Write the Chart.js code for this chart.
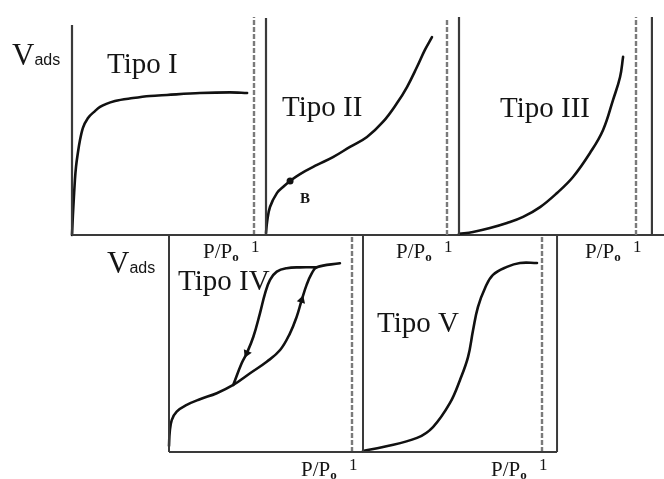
<!DOCTYPE html>
<html>
<head>
<meta charset="utf-8">
<script src="https://cdn.jsdelivr.net/npm/chart.js@4.4.0/dist/chart.umd.min.js"></script>
<style>
  html, body { margin: 0; padding: 0; background: #fff; }
  #wrap { position: relative; width: 664px; height: 479px; overflow: hidden; }
  #wrap canvas { position: absolute; left: 0; top: 0; }
</style>
</head>
<body>
<div id="wrap">
  <canvas id="c1" width="664" height="479"></canvas>
  <canvas id="c2" width="664" height="479"></canvas>
  <canvas id="c3" width="664" height="479"></canvas>
  <canvas id="c4" width="664" height="479"></canvas>
  <canvas id="c5" width="664" height="479"></canvas>
</div>
<script>
// Relative pressure P/P0 (0..1) and adsorbed volume (0..100 = panel height) per isotherm type
const typeI_p   = [0, 0.005, 0.011, 0.016, 0.022, 0.033, 0.044, 0.060, 0.088, 0.126, 0.154, 0.236, 0.335, 0.429, 0.522, 0.703, 0.868, 0.962];
const typeI_v   = [0, 9.5, 19.0, 26.2, 32.4, 39.5, 45.2, 51.0, 55.7, 59.0, 61.0, 63.8, 65.2, 66.2, 66.7, 67.6, 67.9, 67.6];

const typeII_p  = [0, 0.006, 0.022, 0.061, 0.094, 0.133, 0.188, 0.282, 0.370, 0.464, 0.558, 0.646, 0.724, 0.779, 0.834, 0.878, 0.917];
const typeII_v  = [0.9, 6.0, 12.9, 19.4, 22.1, 24.9, 28.1, 32.3, 35.9, 40.6, 45.2, 52.1, 60.8, 68.2, 77.4, 85.3, 91.2];
const pointB    = [0.133, 24.9];

const typeIII_p = [0, 0.079, 0.175, 0.271, 0.362, 0.458, 0.554, 0.644, 0.740, 0.814, 0.870, 0.910, 0.927];
const typeIII_v = [0.5, 1.4, 3.2, 5.5, 8.3, 12.8, 19.3, 26.6, 37.6, 48.2, 61.9, 72.5, 81.7];

const typeIVads_p = [0, 0.004, 0.015, 0.042, 0.097, 0.169, 0.261, 0.351, 0.443, 0.534, 0.607, 0.661, 0.698, 0.725, 0.752, 0.780, 0.807, 0.934];
const typeIVads_v = [2.8, 9.2, 14.7, 18.6, 21.7, 24.3, 27.1, 30.9, 36.3, 41.6, 47.0, 54.7, 62.4, 70.0, 77.0, 82.3, 85.1, 87.0];
const typeIVdes_p = [0.351, 0.397, 0.425, 0.461, 0.497, 0.525, 0.552, 0.589, 0.643, 0.716, 0.807];
const typeIVdes_v = [30.9, 40.9, 45.5, 53.1, 63.9, 73.1, 79.3, 83.1, 84.7, 85.1, 85.1];
const arrowUp   = [0.725, 70.0];
const arrowDown = [0.425, 45.5];

const typeV_p   = [0, 0.112, 0.302, 0.391, 0.486, 0.542, 0.587, 0.615, 0.642, 0.682, 0.726, 0.804, 0.877, 0.972];
const typeV_v   = [0.5, 2.3, 6.5, 11.5, 22.6, 33.2, 43.8, 56.2, 66.8, 75.6, 81.6, 85.3, 87.1, 87.1];

const typeNames = ['Tipo I', 'Tipo II', 'Tipo III', 'Tipo IV', 'Tipo V'];
const axisY = 'V';
const axisYSub = 'ads';
const axisX = 'P/P';
const axisXSub = 'o';
const saturation = 1;

const zip = (xs, ys) => xs.map((x, i) => ({ x: x, y: ys[i] }));

const INK = '#111';
const AXIS = '#3a3a3a';
const DASH = '#7a7a7a';
const SERIF = "'Liberation Serif', 'Times New Roman', serif";
const SANS = "'Liberation Sans', Arial, sans-serif";

function curve(data, smooth) {
  const ds = { data: data, showLine: true, borderColor: INK, borderWidth: 2.6, pointRadius: 0,
               clip: false, fill: false, borderCapStyle: 'round', borderJoinStyle: 'round' };
  if (smooth === 'monotone') ds.cubicInterpolationMode = 'monotone';
  else ds.tension = 0.4;
  return ds;
}
function saturationLine(top) {
  return { data: [{ x: saturation, y: 0 }, { x: saturation, y: top }], showLine: true,
           borderColor: DASH, borderWidth: 2.4, borderDash: [5, 2], pointRadius: 0, clip: false };
}
function marker(pt, style, radius, rotation) {
  return { data: [{ x: pt[0], y: pt[1] }], showLine: false, pointStyle: style, pointRadius: radius,
           rotation: rotation, backgroundColor: INK, borderColor: INK, borderWidth: 0, clip: false };
}

// Frame lines and text drawn on top of each panel
const decor = {
  id: 'decor',
  afterDatasetsDraw(chart, args, opts) {
    const ctx = chart.ctx;
    const xs = chart.scales.x, ys = chart.scales.y;
    ctx.save();
    (opts.lines || []).forEach(l => {
      ctx.beginPath();
      ctx.strokeStyle = l.color || AXIS;
      ctx.lineWidth = l.width || 2;
      const x0 = l.px0 !== undefined ? l.px0 : xs.getPixelForValue(l.p0);
      const x1 = l.px1 !== undefined ? l.px1 : xs.getPixelForValue(l.p1);
      ctx.moveTo(x0, ys.getPixelForValue(l.v0));
      ctx.lineTo(x1, ys.getPixelForValue(l.v1));
      ctx.stroke();
    });
    ctx.fillStyle = '#151515';
    ctx.textBaseline = 'alphabetic';
    (opts.texts || []).forEach(t => {
      let x = t.x !== undefined ? t.x : xs.getPixelForValue(t.p) + (t.dx || 0);
      const y = t.y;
      t.runs.forEach(r => {
        ctx.font = r.font;
        ctx.fillText(r.t, x + (r.dx || 0), y + (r.dy || 0));
        x += ctx.measureText(r.t).width + (r.dx || 0);
      });
    });
    ctx.restore();
  }
};

function vLabel(x, y) {
  return { x: x, y: y, runs: [
    { t: axisY, font: '31px ' + SERIF },
    { t: axisYSub, font: '16px ' + SANS, dx: 0 }
  ] };
}
function pLabels(y) {
  return [
    { p: saturation, dx: -51, y: y, runs: [
      { t: axisX, font: '21px ' + SERIF },
      { t: axisXSub, font: 'bold 13px ' + SERIF, dy: 3 }
    ] },
    { p: saturation, dx: -3, y: y - 6, runs: [{ t: '1', font: '17px ' + SERIF }] }
  ];
}
function title(i, x, y) {
  return { x: x, y: y, runs: [{ t: typeNames[i], font: '29px ' + SERIF }] };
}

const W = 664, H = 479;
const panels = [
  { id: 'c1', area: { l: 72, r: 254, t: 25, b: 235 },
    datasets: [saturationLine(103.8), curve(zip(typeI_p, typeI_v), 'monotone')],
    lines: [
      { p0: 0, v0: 0, p1: 0, v1: 100, width: 2.2 },
      { p0: 0, v0: 0, px1: W, v1: 0, width: 1.8 }
    ],
    texts: [vLabel(12, 65), title(0, 107, 73)].concat(pLabels(258)) },
  { id: 'c2', area: { l: 266, r: 447, t: 18, b: 235 },
    datasets: [saturationLine(100), curve(zip(typeII_p, typeII_v)), marker(pointB, 'circle', 3.5, 0)],
    lines: [{ p0: 0, v0: 0, p1: 0, v1: 100, width: 2.2 }],
    texts: [title(1, 282, 116),
            { x: 300, y: 203, runs: [{ t: 'B', font: 'bold 15px ' + SERIF }] }].concat(pLabels(258)) },
  { id: 'c3', area: { l: 459, r: 636, t: 17, b: 235 },
    datasets: [saturationLine(100), curve(zip(typeIII_p, typeIII_v))],
    lines: [
      { p0: 0, v0: 0, p1: 0, v1: 100, width: 2.2 },
      { p0: 1.09, v0: 0, p1: 1.09, v1: 100, width: 2.2 }
    ],
    texts: [title(2, 500, 117)].concat(pLabels(258)) },
  { id: 'c4', area: { l: 169, r: 352, t: 235, b: 452 },
    datasets: [saturationLine(100), curve(zip(typeIVads_p, typeIVads_v)), curve(zip(typeIVdes_p, typeIVdes_v)),
               marker(arrowUp, 'triangle', 5, 18), marker(arrowDown, 'triangle', 5, 204)],
    lines: [
      { p0: 0, v0: 0, p1: 0, v1: 100, width: 2 },
      { p0: 0, v0: 0, p1: 1.07, v1: 0, width: 2 }
    ],
    texts: [vLabel(107, 273), title(3, 178, 290)].concat(pLabels(476)) },
  { id: 'c5', area: { l: 363, r: 542, t: 235, b: 452 },
    datasets: [saturationLine(100), curve(zip(typeV_p, typeV_v))],
    lines: [
      { p0: 0, v0: 0, p1: 0, v1: 100, width: 2 },
      { p0: 0, v0: 0, p1: 1.084, v1: 0, width: 2 },
      { p0: 1.084, v0: 0, p1: 1.084, v1: 100, width: 2 }
    ],
    texts: [title(4, 377, 332)].concat(pLabels(476)) }
];

panels.forEach(pn => {
  new Chart(document.getElementById(pn.id), {
    type: 'scatter',
    data: { datasets: pn.datasets },
    options: {
      responsive: false,
      animation: false,
      events: [],
      layout: { padding: { left: pn.area.l, right: W - pn.area.r, top: pn.area.t, bottom: H - pn.area.b } },
      scales: {
        x: { type: 'linear', min: 0, max: 1, display: false },
        y: { type: 'linear', min: 0, max: 100, display: false }
      },
      plugins: {
        legend: { display: false },
        tooltip: { enabled: false },
        decor: { lines: pn.lines, texts: pn.texts }
      }
    },
    plugins: [decor]
  });
});
</script>
</body>
</html>
